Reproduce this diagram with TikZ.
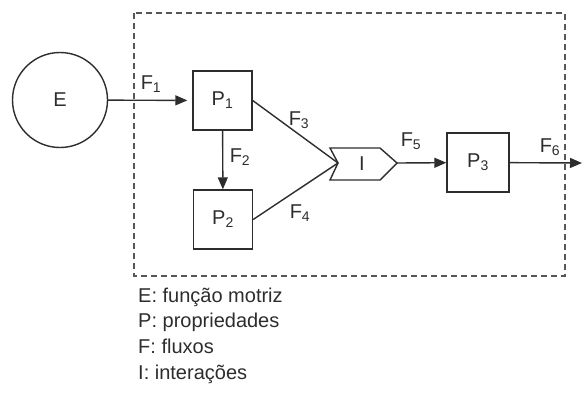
\documentclass[tikz,border=0pt]{standalone}
\usepackage{fontspec}
\setmainfont{Liberation Sans}
\usetikzlibrary{arrows.meta,positioning}
\definecolor{ink}{RGB}{45,45,45}

\begin{document}
\begin{tikzpicture}[
  x=1pt, y=-1pt,
  font=\fontsize{20}{23}\selectfont, text=ink,
  box/.style={rectangle, draw=ink, line width=1.4pt, minimum width=59pt, minimum height=59pt, inner sep=0pt},
  arr/.style={-{Triangle[length=12pt,width=10pt]}, line width=1.4pt, ink},
  wire/.style={line width=1.4pt, ink},
  bound/.style={draw=ink!80, line width=1.3pt, dash pattern=on 6pt off 4pt},
  lbl/.style={inner sep=0pt},
  leg/.style={anchor=base west, inner sep=0pt}
]
\useasboundingbox (0,0) rectangle (583,394);
\draw[bound] (134,13) rectangle (565,276);

\node[circle, draw=ink, line width=1.4pt, minimum size=95pt, inner sep=0pt] (E) at (60,100) {E};
\node[box] (P1) at (222.5,100.5) {P\textsubscript{1}};
\node[box] (P2) at (223,219.5) {P\textsubscript{2}};
\node[box, minimum width=62pt] (P3) at (478,162.5) {P\textsubscript{3}};
\node[lbl] (I) at (362,164) {I};
\coordinate (Inotch) at (338,163);
\coordinate (Itip) at (397,163);
\coordinate (out) at (582,163);
\draw[wire, line join=miter] (330,148) -- (Inotch) -- (330,180) -- (380,180) -- (Itip) -- (380,148) -- cycle;

\draw[arr, shorten >=5pt] (E) -- (P1);
\draw[arr] (P1) -- (P2);
\draw[wire] (P1.east) -- (Inotch);
\draw[wire] (P2.east) -- (Inotch);
\draw[arr] (Itip) -- (P3);
\draw[arr] (P3) -- (out);

\node[lbl] (F1) at (151,84) {F\textsubscript{1}};
\node[lbl] (F2) at (240,157) {F\textsubscript{2}};
\node[lbl] (F3) at (299,120) {F\textsubscript{3}};
\node[lbl] (F4) at (300,213) {F\textsubscript{4}};
\node[lbl] (F5) at (411,141) {F\textsubscript{5}};
\node[lbl] (F6) at (550,147) {F\textsubscript{6}};

% legenda
\node[leg] (legE) at (138,302) {E: função motriz};
\node[leg] (legP) at (138,327) {P: propriedades};
\node[leg] (legF) at (138,353) {F: fluxos};
\node[leg] (legI) at (138,379) {I: interações};
\end{tikzpicture}
\end{document}
